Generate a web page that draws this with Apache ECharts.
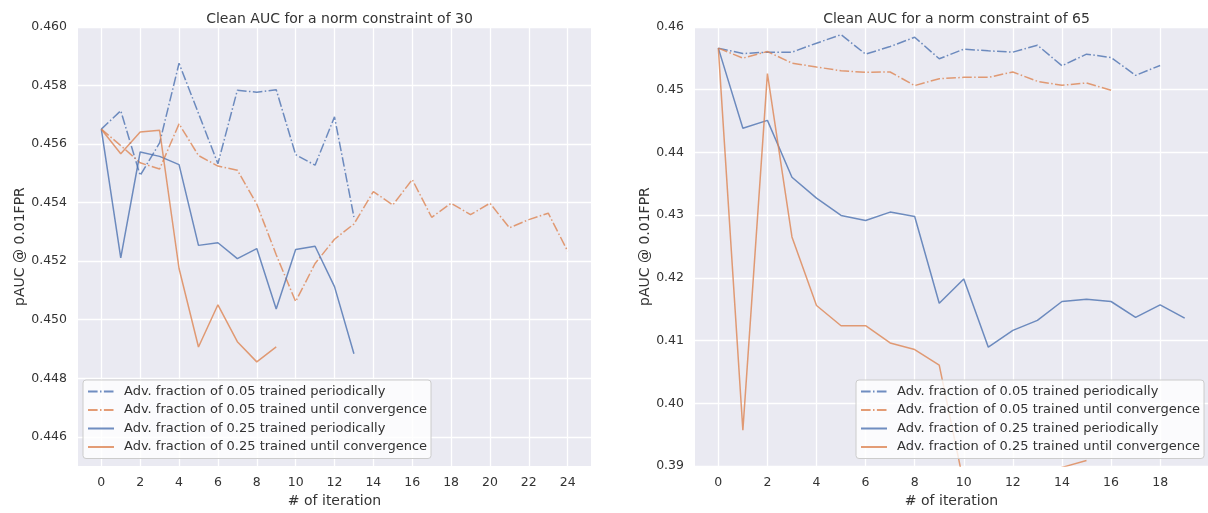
<!DOCTYPE html>
<html>
<head>
<meta charset="utf-8">
<script src="https://cdn.jsdelivr.net/npm/echarts@6/dist/echarts.min.js"></script>
<style>
html,body{margin:0;padding:0;background:#fff;}
#c{width:1208px;height:513px;}
</style>
</head>
<body>
<div id="c"></div>
<script>
// ---- data ----
const names = [
  'Adv. fraction of 0.05 trained periodically',
  'Adv. fraction of 0.05 trained until convergence',
  'Adv. fraction of 0.25 trained periodically',
  'Adv. fraction of 0.25 trained until convergence'
];
const titles = ['Clean AUC for a norm constraint of 30', 'Clean AUC for a norm constraint of 65'];

// norm constraint 30
const n30_p05 = [0.45651, 0.45714, 0.45493, 0.45604, 0.45876, 0.45705, 0.45533, 0.45784, 0.45777, 0.45786, 0.45564, 0.45528, 0.45693, 0.45351];
const n30_c05 = [0.45651, 0.45595, 0.45536, 0.45515, 0.45669, 0.45561, 0.45525, 0.45511, 0.45395, 0.45222, 0.45062, 0.45192, 0.45275, 0.45327, 0.45438, 0.45392, 0.45479, 0.45350, 0.45398, 0.45359, 0.45398, 0.45314, 0.45342, 0.45364, 0.45234];
const n30_p25 = [0.45651, 0.45211, 0.45573, 0.45558, 0.45530, 0.45254, 0.45263, 0.45209, 0.45243, 0.45037, 0.45240, 0.45251, 0.45113, 0.44884];
const n30_c25 = [0.45651, 0.45567, 0.45641, 0.45647, 0.45175, 0.44907, 0.45051, 0.44925, 0.44856, 0.44907];

// norm constraint 65
const n65_p05 = [0.45663, 0.45577, 0.45599, 0.45599, 0.45742, 0.45878, 0.45567, 0.45688, 0.45837, 0.45493, 0.45647, 0.45620, 0.45599, 0.45710, 0.45382, 0.45567, 0.45514, 0.45229, 0.45387];
const n65_c05 = [0.45663, 0.45504, 0.45609, 0.45425, 0.45362, 0.45303, 0.45277, 0.45283, 0.45066, 0.45176, 0.45197, 0.45197, 0.45283, 0.45134, 0.45070, 0.45108, 0.44991];
const n65_p25 = [0.45663, 0.44385, 0.44511, 0.43604, 0.43271, 0.42996, 0.42916, 0.43049, 0.42980, 0.41597, 0.41983, 0.40895, 0.41164, 0.41323, 0.41624, 0.41660, 0.41624, 0.41371, 0.41570, 0.41360];
const n65_c25 = [0.45663, 0.39574, 0.45256, 0.42653, 0.41560, 0.41238, 0.41238, 0.40963, 0.40858, 0.40609, 0.38720, 0.38680, 0.38800, 0.38850, 0.38980, 0.39090];

const xTicks30 = [0, 2, 4, 6, 8, 10, 12, 14, 16, 18, 20, 22, 24];
const xTicks65 = [0, 2, 4, 6, 8, 10, 12, 14, 16, 18];
const yTicks30 = [0.446, 0.448, 0.450, 0.452, 0.454, 0.456, 0.458, 0.460];
const yTicks65 = [0.39, 0.40, 0.41, 0.42, 0.43, 0.44, 0.45, 0.46];

// ---- chart ----
const FONT = 'DejaVu Sans';
const TXT = '#333333';
const BLUE = '#4C72B0', ORANGE = '#DD8452';
const DASHDOT = [9.6, 2.4, 1.5, 2.4];

function pairs(arr) { return arr.map((v, i) => [i, v]); }

function xAxisDef(gi, min, max, ticks) {
  return {
    type: 'value', gridIndex: gi, min: min, max: max,
    name: '# of iteration', nameLocation: 'middle', nameGap: 27,
    nameTextStyle: { fontFamily: FONT, fontSize: 14, color: TXT },
    axisLine: { show: false }, axisTick: { show: false, customValues: ticks },
    axisLabel: { customValues: ticks, fontFamily: FONT, fontSize: 12.5, color: TXT, margin: 10,
      formatter: v => String(Math.round(v)) },
    splitLine: { show: true, lineStyle: { color: '#ffffff', width: 1.3 } }
  };
}
function yAxisDef(gi, min, max, ticks, dec, gap) {
  return {
    type: 'value', gridIndex: gi, min: min, max: max,
    name: 'pAUC @ 0.01FPR', nameLocation: 'middle', nameGap: gap,
    nameTextStyle: { fontFamily: FONT, fontSize: 14, color: TXT },
    axisLine: { show: false }, axisTick: { show: false, customValues: ticks },
    axisLabel: { customValues: ticks, fontFamily: FONT, fontSize: 12.5, color: TXT, margin: 11,
      formatter: v => v.toFixed(dec) },
    splitLine: { show: true, lineStyle: { color: '#ffffff', width: 1.3 } }
  };
}
function ser(name, gi, arr, color, dashed) {
  return {
    type: 'line', name: name, xAxisIndex: gi, yAxisIndex: gi,
    data: pairs(arr), symbol: 'none', showSymbol: false, clip: true,
    lineStyle: { color: color, width: 1.5, opacity: 0.8, type: dashed ? DASHDOT : 'solid' },
    itemStyle: { color: color, opacity: 0.8 },
    emphasis: { disabled: true }, animation: false
  };
}
function legendDef(left) {
  return {
    orient: 'vertical', left: left, top: 380,
    data: names,
    itemWidth: 26, itemHeight: 14, itemGap: 5.5,
    padding: [5, 4, 5, 4],
    backgroundColor: 'rgba(255,255,255,0.8)',
    borderColor: '#cccccc', borderWidth: 1, borderRadius: 3,
    itemStyle: { opacity: 0 },
    textStyle: { fontFamily: FONT, fontSize: 13, color: TXT, padding: [0, 0, 0, 5] },
    selectedMode: false
  };
}

const chart = echarts.init(document.getElementById('c'), null, { renderer: 'canvas' });
chart.setOption({
  animation: false,
  backgroundColor: '#ffffff',
  title: [
    { text: titles[0], left: 334.5, top: 7, textAlign: 'center',
      textStyle: { fontFamily: FONT, fontSize: 14, fontWeight: 'normal', color: TXT } },
    { text: titles[1], left: 951.5, top: 7, textAlign: 'center',
      textStyle: { fontFamily: FONT, fontSize: 14, fontWeight: 'normal', color: TXT } }
  ],
  grid: [
    { left: 78, right: 617, top: 27, bottom: 45, show: true, backgroundColor: '#EAEAF2', borderWidth: 0 },
    { left: 695, right: 0, top: 27, bottom: 45, show: true, backgroundColor: '#EAEAF2', borderWidth: 0 }
  ],
  xAxis: [ xAxisDef(0, -1.2, 25.2, xTicks30), xAxisDef(1, -0.95, 19.95, xTicks65) ],
  yAxis: [ yAxisDef(0, 0.445, 0.460, yTicks30, 3, 51), yAxisDef(1, 0.39, 0.46, yTicks65, 2, 43) ],
  legend: [ legendDef(83), legendDef(856) ],
  series: [
    ser(names[0], 0, n30_p05, BLUE, true),
    ser(names[1], 0, n30_c05, ORANGE, true),
    ser(names[2], 0, n30_p25, BLUE, false),
    ser(names[3], 0, n30_c25, ORANGE, false),
    ser(names[0], 1, n65_p05, BLUE, true),
    ser(names[1], 1, n65_c05, ORANGE, true),
    ser(names[2], 1, n65_p25, BLUE, false),
    ser(names[3], 1, n65_c25, ORANGE, false)
  ]
});
</script>
</body>
</html>
